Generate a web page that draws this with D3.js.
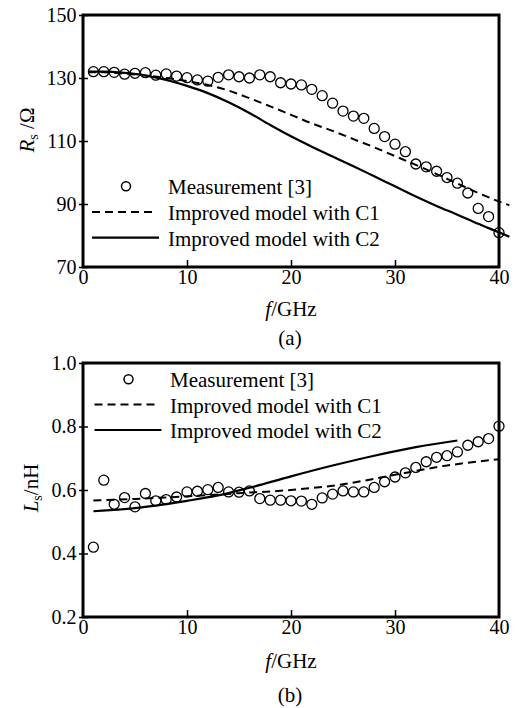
<!DOCTYPE html>
<html lang="en">
  <head>
    <meta charset="utf-8" />
    <title>Rs and Ls versus frequency</title>
    <script src="https://d3js.org/d3.v7.min.js"></script>
    <style type="text/css">
      body {
        margin: 0;
        background-color: #ffffff;
      }
      svg text {
        font-family: "Liberation Serif", "DejaVu Serif", serif;
        fill: #000;
      }
    </style>
  </head>
  <body>
    <script type="text/javascript">
      //Width and height
      var w = 516;
      var h = 708;
      var serif = "'Liberation Serif', 'DejaVu Serif', serif";

      //Frequency points of the measurement (GHz)
      var freq = [
        1, 2, 3, 4, 5, 6, 7, 8, 9, 10, 11, 12, 13, 14, 15, 16, 17, 18, 19, 20,
        21, 22, 23, 24, 25, 26, 27, 28, 29, 30, 31, 32, 33, 34, 35, 36, 37, 38,
        39, 40,
      ];

      //(a) Rs in ohm
      var rsMeas = [
        132.0, 132.0, 131.8, 131.2, 131.5, 131.7, 130.9, 131.3, 130.6, 130.1,
        129.4, 129.0, 130.2, 131.0, 130.4, 130.0, 131.0, 130.4, 128.5, 128.1,
        127.8, 126.4, 124.4, 122.0, 119.5, 117.9, 117.2, 114.0, 111.4, 109.0,
        106.6, 102.7, 101.8, 100.4, 98.4, 96.6, 93.5, 88.6, 86.0, 80.9,
      ];
      var rsModelFreq = [
        0.5, 2, 4, 6, 8, 10, 12, 14, 16, 18, 20, 22, 24, 26, 28, 30, 32, 34, 36,
        38, 40, 41,
      ];
      var rsC1 = [
        131.8, 131.8, 131.4, 130.8, 130.0, 129.0, 127.8, 126.0, 123.6, 121.0,
        118.3, 115.6, 113.2, 110.6, 108.0, 105.2, 102.4, 99.5, 96.5, 93.5, 90.8,
        89.6,
      ];
      var rsC2 = [
        132.0, 132.0, 131.6, 130.8, 129.4, 127.5, 125.2, 122.3, 118.9, 115.1,
        111.5, 108.2, 105.1, 102.0, 98.8, 95.6, 92.4, 89.4, 86.6, 83.7, 81.0,
        79.6,
      ];

      //(b) Ls in nH
      var lsMeas = [
        0.42, 0.631, 0.555, 0.576, 0.547, 0.589, 0.566, 0.57, 0.578, 0.594,
        0.596, 0.601, 0.608, 0.594, 0.593, 0.597, 0.573, 0.568, 0.568, 0.566,
        0.565, 0.555, 0.575, 0.587, 0.597, 0.594, 0.594, 0.608, 0.626, 0.641,
        0.654, 0.671, 0.689, 0.703, 0.708, 0.72, 0.741, 0.752, 0.762, 0.801,
      ];
      var lsC1Freq = [1, 5, 10, 15, 20, 25, 30, 35, 40];
      var lsC1 = [0.567, 0.572, 0.58, 0.59, 0.6, 0.618, 0.648, 0.677, 0.697];
      var lsC2Freq = [1, 5, 10, 13, 16, 20, 24, 28, 32, 36];
      var lsC2 = [
        0.533, 0.543, 0.566, 0.583, 0.607, 0.643, 0.677, 0.708, 0.735, 0.756,
      ];

      //Axis ticks and legend labels
      var xTicks = [0, 10, 20, 30, 40];
      var rsTicks = [70, 90, 110, 130, 150];
      var lsTicks = [0.2, 0.4, 0.6, 0.8, 1.0];
      var legendLabels = [
        "Measurement [3]",
        "Improved model with C1",
        "Improved model with C2",
      ];

      function zip(xs, ys) {
        return xs.map(function (x, i) {
          return [x, ys[i]];
        });
      }

      var panels = [
        {
          top: 15,
          bottom: 267,
          domain: [70, 150],
          ticks: rsTicks,
          fmt: d3.format("d"),
          meas: zip(freq, rsMeas),
          c1: zip(rsModelFreq, rsC1),
          c2: zip(rsModelFreq, rsC2),
          yTitle: ["R", "s", " /\u03a9"],
          yTitleX: 34,
          yTitleY: 130,
          xTitleY: 315.5,
          tag: "(a)",
          tagY: 344.5,
          legend: { mx: 126, tx: 168, rows: [194.3, 220, 245.7] },
        },
        {
          top: 363,
          bottom: 617,
          domain: [0.2, 1.0],
          ticks: lsTicks,
          fmt: d3.format(".1f"),
          meas: zip(freq, lsMeas),
          c1: zip(lsC1Freq, lsC1),
          c2: zip(lsC2Freq, lsC2),
          yTitle: ["L", "s", "/nH"],
          yTitleX: 38,
          yTitleY: 488,
          xTitleY: 668,
          tag: "(b)",
          tagY: 702,
          legend: { mx: 128.5, tx: 170, rows: [387.3, 412.5, 438] },
        },
      ];

      var left = 83;
      var right = 499;

      var xScale = d3.scaleLinear().domain([0, 40]).range([left, right]);

      //Create SVG element
      var svg = d3
        .select("body")
        .append("svg")
        .attr("width", w)
        .attr("height", h)
        .attr("font-family", serif);

      panels.forEach(function (p) {
        var yScale = d3
          .scaleLinear()
          .domain(p.domain)
          .range([p.bottom, p.top]);

        var line = d3
          .line()
          .x(function (d) {
            return xScale(d[0]);
          })
          .y(function (d) {
            return yScale(d[1]);
          })
          .curve(d3.curveMonotoneX);

        var g = svg.append("g");

        //Model curves
        g.append("path")
          .datum(p.c1)
          .attr("d", line)
          .attr("fill", "none")
          .attr("stroke", "#000")
          .attr("stroke-width", 2)
          .attr("stroke-dasharray", "8,5");

        g.append("path")
          .datum(p.c2)
          .attr("d", line)
          .attr("fill", "none")
          .attr("stroke", "#000")
          .attr("stroke-width", 2.2);

        //Measured points
        g.selectAll("circle.meas")
          .data(p.meas)
          .enter()
          .append("circle")
          .attr("class", "meas")
          .attr("cx", function (d) {
            return xScale(d[0]);
          })
          .attr("cy", function (d) {
            return yScale(d[1]);
          })
          .attr("r", 5)
          .attr("fill", "none")
          .attr("stroke", "#000")
          .attr("stroke-width", 1.3);

        //x axis, ticks pointing inwards
        var xAxis = g
          .append("g")
          .attr("transform", "translate(0," + p.bottom + ")")
          .call(
            d3
              .axisBottom(xScale)
              .tickValues(xTicks)
              .tickSizeInner(-7)
              .tickSizeOuter(0)
              .tickPadding(3)
          );
        xAxis.attr("font-family", serif).attr("font-size", 20);
        xAxis.select(".domain").remove();
        xAxis
          .selectAll(".tick line")
          .attr("stroke-width", 1.5)
          .filter(function (d) {
            return d === 0 || d === 40;
          })
          .remove();

        //y axis, ticks crossing the frame
        var yAxis = g
          .append("g")
          .attr("transform", "translate(" + left + ",0)")
          .call(
            d3
              .axisLeft(yScale)
              .tickValues(p.ticks)
              .tickFormat(p.fmt)
              .tickSizeInner(4)
              .tickSizeOuter(0)
              .tickPadding(2.5)
          );
        yAxis.attr("font-family", serif).attr("font-size", 20);
        yAxis.select(".domain").remove();
        yAxis
          .selectAll(".tick line")
          .attr("x2", -4)
          .attr("x1", 5)
          .attr("stroke-width", 1.5);

        //Frame
        g.append("rect")
          .attr("x", left)
          .attr("y", p.top)
          .attr("width", right - left)
          .attr("height", p.bottom - p.top)
          .attr("fill", "none")
          .attr("stroke", "#000")
          .attr("stroke-width", 3);

        //Axis titles
        var yt = g
          .append("text")
          .attr(
            "transform",
            "translate(" + p.yTitleX + "," + p.yTitleY + ") rotate(-90)"
          )
          .attr("text-anchor", "middle")
          .attr("font-size", 21);
        yt.append("tspan").attr("font-style", "italic").text(p.yTitle[0]);
        yt.append("tspan")
          .attr("font-size", 14)
          .attr("dy", 4)
          .text(p.yTitle[1]);
        yt.append("tspan").attr("dy", -4).text(p.yTitle[2]);

        var xt = g
          .append("text")
          .attr("x", (left + right) / 2)
          .attr("y", p.xTitleY)
          .attr("text-anchor", "middle")
          .attr("font-size", 21);
        xt.append("tspan").attr("font-style", "italic").text("f");
        xt.append("tspan").text("/GHz");

        g.append("text")
          .attr("x", (left + right) / 2 - 1)
          .attr("y", p.tagY)
          .attr("text-anchor", "middle")
          .attr("font-size", 21)
          .text(p.tag);

        //Legend
        var lg = p.legend;
        g.append("circle")
          .attr("cx", lg.mx)
          .attr("cy", lg.rows[0] - 8)
          .attr("r", 4.5)
          .attr("fill", "none")
          .attr("stroke", "#000")
          .attr("stroke-width", 1.5);
        g.append("line")
          .attr("x1", lg.mx - 34)
          .attr("x2", lg.mx + 27)
          .attr("y1", lg.rows[1] - 8)
          .attr("y2", lg.rows[1] - 8)
          .attr("stroke", "#000")
          .attr("stroke-width", 2)
          .attr("stroke-dasharray", "8,5");
        g.append("line")
          .attr("x1", lg.mx - 34)
          .attr("x2", lg.mx + 33)
          .attr("y1", lg.rows[2] - 8)
          .attr("y2", lg.rows[2] - 8)
          .attr("stroke", "#000")
          .attr("stroke-width", 2.2);

        g.selectAll("text.legend")
          .data(legendLabels)
          .enter()
          .append("text")
          .attr("class", "legend")
          .attr("x", lg.tx)
          .attr("y", function (d, i) {
            return lg.rows[i];
          })
          .attr("font-size", 21)
          .text(function (d) {
            return d;
          });
      });
    </script>
  </body>
</html>
